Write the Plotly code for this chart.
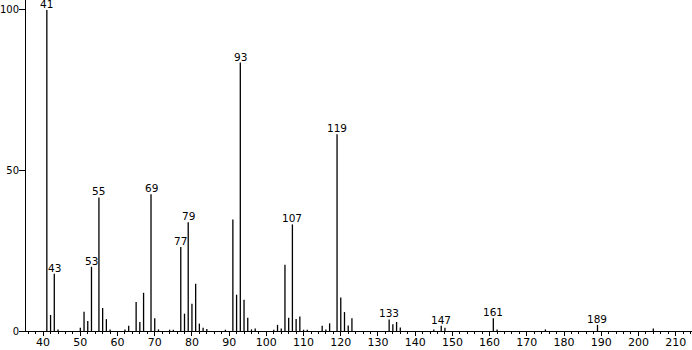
import plotly.graph_objects as go

# m/z values and relative intensities
mz = [41, 42, 43, 44, 50, 51, 52, 53, 55, 56, 57, 58, 62, 63, 65, 66, 67, 69, 70, 71,
      74, 75, 77, 78, 79, 80, 81, 82, 83, 84, 89, 91, 92, 93, 94, 95, 96, 97,
      102, 103, 104, 105, 106, 107, 108, 109, 110, 111, 115, 116, 117, 119, 120, 121,
      122, 123, 133, 134, 135, 136, 145, 147, 148, 161, 162, 175, 189, 204]
intensity = [100, 5.0, 17.8, 0.5, 1.0, 6.0, 3.1, 20.0, 41.6, 7.2, 3.7, 0.5, 0.5, 1.6, 9.0, 2.8, 11.9, 42.6, 4.0, 0.5,
             0.4, 0.4, 26.2, 5.4, 33.9, 8.5, 14.7, 2.3, 1.0, 0.6, 0.4, 34.7, 11.3, 83.6, 9.7, 4.1, 0.5, 0.8,
             0.4, 1.9, 0.8, 20.6, 4.1, 33.2, 3.7, 4.5, 0.4, 0.4, 1.6, 0.5, 2.4, 61.3, 10.4, 5.9,
             1.7, 4.0, 3.6, 2.1, 2.8, 1.1, 0.5, 1.6, 1.0, 4.0, 0.5, 0.5, 1.9, 0.8]

labeled_peaks = [41, 43, 53, 55, 69, 77, 79, 93, 107, 119, 133, 147, 161, 189]

x_tick_vals = list(range(40, 211, 10))
y_tick_vals = [0, 50, 100]

xs, ys = [], []
for m, v in zip(mz, intensity):
    xs += [m, m, None]
    ys += [0, v, None]

fig = go.Figure()
fig.add_trace(go.Scatter(x=xs, y=ys, mode="lines",
                         line=dict(color="black", width=1.3),
                         hoverinfo="skip", showlegend=False))

lookup = dict(zip(mz, intensity))
for m in labeled_peaks:
    fig.add_annotation(x=m, y=lookup[m], text=str(m), showarrow=False,
                       yanchor="bottom", xanchor="center", yshift=-2,
                       font=dict(size=10.5, color="black"))

fig.update_layout(
    width=692, height=350,
    margin=dict(l=26, r=0, t=0, b=19),
    paper_bgcolor="white", plot_bgcolor="white",
    font=dict(family="DejaVu Sans", size=11, color="black"),
    showlegend=False,
)
fig.update_xaxes(range=[35.4, 214.4], tickvals=x_tick_vals, showgrid=False,
                 zeroline=False, showline=True, linecolor="black", linewidth=1,
                 ticks="outside", ticklen=4, tickcolor="black", automargin=False,
                 ticklabelstandoff=-3,
                 minor=dict(dtick=2, tick0=0, ticks="outside", ticklen=2, tickcolor="black"),
                 tickfont=dict(size=11))
fig.update_yaxes(range=[0, 103.1], tickvals=y_tick_vals, showgrid=False,
                 zeroline=False, showline=True, linecolor="black", linewidth=1,
                 ticks="outside", ticklen=6, tickcolor="black", automargin=False,
                 ticklabelstandoff=-2,
                 tickfont=dict(size=10))

fig.write_html("out.html")
